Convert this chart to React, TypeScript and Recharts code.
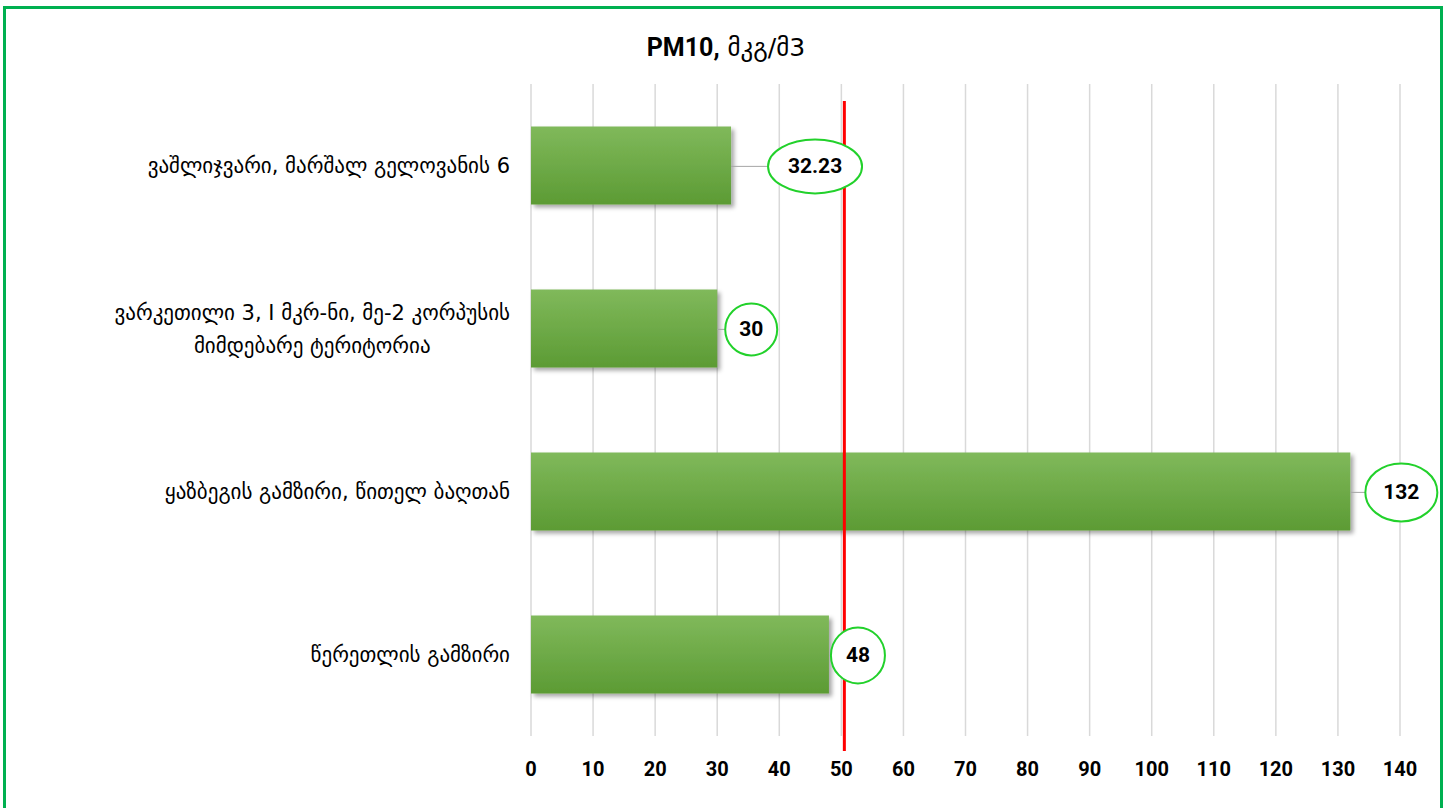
import React, { useLayoutEffect, useRef, useState } from "react";
import {
  BarChart,
  Bar,
  XAxis,
  YAxis,
  CartesianGrid,
  ReferenceLine,
  LabelList,
  Rectangle,
} from "recharts";

const categories = [
  "ვაშლიჯვარი, მარშალ გელოვანის 6",
  "ვარკეთილი 3, I მკრ-ნი, მე-2 კორპუსის\nმიმდებარე ტერიტორია",
  "ყაზბეგის გამზირი, წითელ ბაღთან",
  "წერეთლის გამზირი",
];
const pm10 = [32.23, 30, 132, 48];
const pm10Labels = ["32.23", "30", "132", "48"];
const xTicks = [0, 10, 20, 30, 40, 50, 60, 70, 80, 90, 100, 110, 120, 130, 140];
const limit = 50;

// callout shapes around each value (offset from bar end, radii)
const calloutDx = [84, 34, 51, 29];
const calloutRx = [47, 26, 36, 27];
const calloutRy = [27, 26, 29, 28];

const data = categories.map((name, i) => ({ name, value: pm10[i], label: pm10Labels[i] }));

const NUM_FONT = "Roboto, 'DejaVu Sans', sans-serif";
const GEO_FONT = "'DejaVu Sans', 'Noto Sans', sans-serif";
const GEO_SIZE = 21;

function CategoryTick(props: any) {
  const { x, y, payload } = props;
  const lines: string[] = String(payload?.value ?? "").split("\n");
  const ref = useRef<SVGTextElement>(null);
  const [w, setW] = useState(0);

  useLayoutEffect(() => {
    if (ref.current) setW(ref.current.getComputedTextLength());
  }, [payload?.value]);

  if (lines.length === 1) {
    return (
      <text x={x} y={y} textAnchor="end" dominantBaseline="central" fontFamily={GEO_FONT} fontSize={GEO_SIZE} fill="#000">
        {lines[0]}
      </text>
    );
  }
  return (
    <g>
      <text ref={ref} x={x} y={y - 16} textAnchor="end" dominantBaseline="central" fontFamily={GEO_FONT} fontSize={GEO_SIZE} fill="#000">
        {lines[0]}
      </text>
      <text x={x - w / 2} y={y + 17} textAnchor="middle" dominantBaseline="central" fontFamily={GEO_FONT} fontSize={GEO_SIZE} fill="#000">
        {lines[1]}
      </text>
    </g>
  );
}

function Callout(props: any) {
  const { x, y, width, height, index, value } = props;
  const endX = x + width;
  const cy = y + height / 2 + 1;
  const cx = endX + calloutDx[index];
  const rx = calloutRx[index];
  const ry = calloutRy[index];
  const gap = cx - rx - endX;
  return (
    <g>
      {gap > 4 && <line x1={endX} y1={cy} x2={cx - rx} y2={cy} stroke="#a6a6a6" strokeWidth={1} />}
      <ellipse cx={cx} cy={cy} rx={rx} ry={ry} fill="#fff" stroke="#22d12b" strokeWidth={2} />
      <text x={cx} y={cy} textAnchor="middle" dominantBaseline="central" fontFamily={NUM_FONT} fontWeight={700} fontSize={21} fill="#000">
        {value}
      </text>
    </g>
  );
}

function ShadowBar(props: any) {
  return <Rectangle {...props} fill="url(#barGrad)" filter="url(#barShadow)" />;
}

function LimitLine(props: any) {
  const { x1, y1, x2, y2 } = props;
  return <line x1={x1 + 3} y1={y1 + 15} x2={x2 + 3} y2={y2 + 17} stroke="#ff0000" strokeWidth={3} />;
}

export default function App() {
  return (
    <div style={{ position: "absolute", left: 0, top: 0, width: 1448, height: 808, background: "#fff" }}>
      <div
        style={{
          position: "absolute",
          left: 3,
          top: 6,
          width: 1434,
          height: 802,
          borderTop: "3px solid #00b050",
          borderLeft: "3px solid #00b050",
          borderRight: "3px solid #00b050",
        }}
      />
      <div
        style={{
          position: "absolute",
          left: 0,
          width: 1448,
          top: 32,
          textAlign: "center",
          fontSize: 25,
          lineHeight: "32px",
          color: "#000",
        }}
      >
        <span style={{ fontFamily: NUM_FONT, fontWeight: 700, marginLeft: 4 }}>PM10,</span>
        <span style={{ fontFamily: GEO_FONT }}> მკგ/მ3</span>
      </div>
      <div style={{ position: "absolute", left: 0, top: 0 }}>
        <BarChart
          width={1448}
          height={808}
          data={data}
          layout="vertical"
          margin={{ top: 84, right: 48, bottom: 42, left: 0 }}
          barCategoryGap="26%"
        >
          <defs>
            <linearGradient id="barGrad" x1="0" y1="0" x2="0" y2="1">
              <stop offset="0%" stopColor="#80b95b" />
              <stop offset="100%" stopColor="#5c9b34" />
            </linearGradient>
            <filter id="barShadow" x="-5%" y="-10%" width="115%" height="130%">
              <feDropShadow dx={3} dy={3} stdDeviation={2} floodColor="#000" floodOpacity={0.35} />
            </filter>
          </defs>
          <CartesianGrid horizontal={false} stroke="#d9d9d9" strokeWidth={1.5} />
          <XAxis
            type="number"
            domain={[0, 140]}
            ticks={xTicks}
            interval={0}
            axisLine={false}
            tickLine={false}
            tickMargin={20}
            tick={{ fontFamily: NUM_FONT, fontWeight: 700, fontSize: 20, fill: "#000" }}
          />
          <YAxis
            type="category"
            dataKey="name"
            width={531}
            axisLine={false}
            tickLine={false}
            tickSize={0}
            tickMargin={21}
            interval={0}
            tick={<CategoryTick />}
          />
          <Bar dataKey="value" isAnimationActive={false} shape={<ShadowBar />}>
            <LabelList dataKey="label" content={<Callout />} />
          </Bar>
          <ReferenceLine x={limit} shape={<LimitLine />} />
        </BarChart>
      </div>
    </div>
  );
}
